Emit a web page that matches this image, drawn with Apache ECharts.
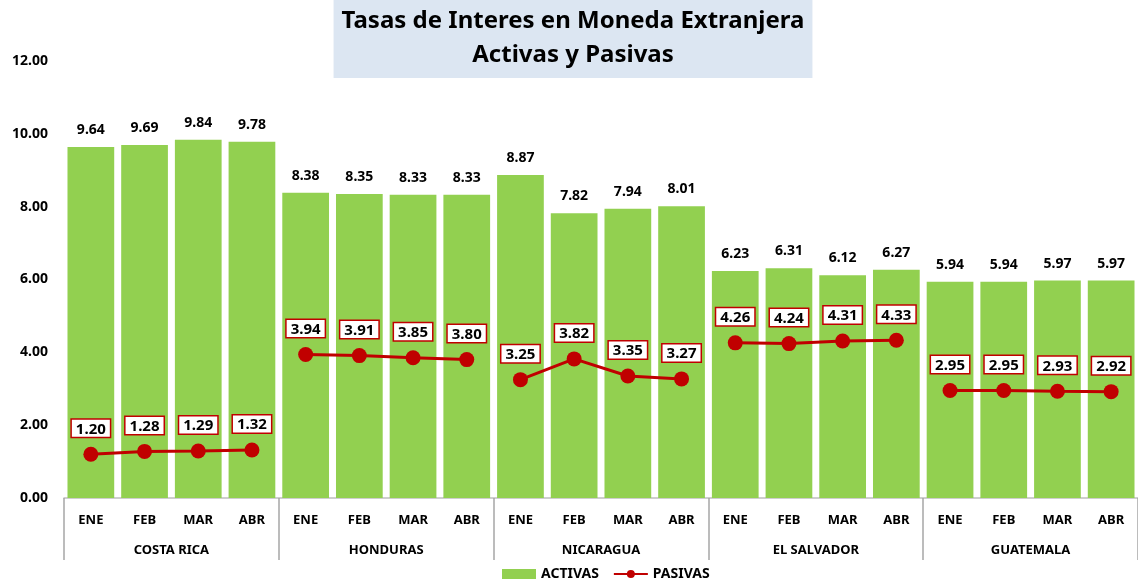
<!DOCTYPE html>
<html>
<head>
<meta charset="utf-8">
<script src="https://cdn.jsdelivr.net/npm/echarts@6/dist/echarts.min.js"></script>
<style>
  html, body { margin: 0; padding: 0; background: #fff; }
  #chart { width: 1138px; height: 585px; }
</style>
</head>
<body>
<div id="chart"></div>
<script>
// datos
var meses = ['ENE', 'FEB', 'MAR', 'ABR']
var paises = ['COSTA RICA', 'HONDURAS', 'NICARAGUA', 'EL SALVADOR', 'GUATEMALA']
var activas = [9.64, 9.69, 9.84, 9.78, 8.38, 8.35, 8.33, 8.33, 8.87, 7.82, 7.94, 8.01, 6.23, 6.31, 6.12, 6.27, 5.94, 5.94, 5.97, 5.97]
var pasivas = [1.20, 1.28, 1.29, 1.32, 3.94, 3.91, 3.85, 3.80, 3.25, 3.82, 3.35, 3.27, 4.26, 4.24, 4.31, 4.33, 2.95, 2.95, 2.93, 2.92]

var FONT = 'Noto Sans'
var categorias = []
paises.forEach(function () {
  meses.forEach(function (m) { categorias.push(m) })
})

var chart = echarts.init(document.getElementById('chart'))

// una serie de linea por pais, para que la linea se corte entre grupos
var lineas = paises.map(function (p, k) {
  var d = pasivas.map(function (v, i) {
    return Math.floor(i / meses.length) === k ? v : '-'
  })
  return {
    name: 'PASIVAS',
    type: 'line',
    data: d,
    symbol: 'circle',
    symbolSize: 15,
    lineStyle: { color: '#C00000', width: 3 },
    itemStyle: { color: '#C00000' },
    label: {
      show: true,
      position: 'top',
      distance: 10,
      formatter: function (x) { return x.value.toFixed(2) },
      color: '#000',
      fontFamily: FONT,
      fontWeight: 'bold',
      fontSize: 15,
      backgroundColor: '#fff',
      borderColor: '#C00000',
      borderWidth: 1.5,
      padding: [2, 4, 0, 4]
    },
    z: 3
  }
})

var option = {
  title: {
    text: 'Tasas de Interes en Moneda Extranjera\nActivas y Pasivas',
    left: 565,
    top: 0,
    textAlign: 'center',
    backgroundColor: '#DCE6F2',
    padding: [4, 8, 6, 8],
    textStyle: {
      fontFamily: FONT,
      fontWeight: 'bold',
      fontSize: 24,
      lineHeight: 34,
      color: '#000'
    }
  },
  legend: {
    bottom: -1,
    left: 497,
    itemGap: 14,
    itemWidth: 34,
    itemHeight: 10,
    data: [
      { name: 'ACTIVAS', icon: 'rect' },
      { name: 'PASIVAS' }
    ],
    textStyle: { fontFamily: FONT, fontWeight: 'bold', fontSize: 14, color: '#000' }
  },
  grid: { left: 64, right: 0, top: 61, bottom: 87 },
  xAxis: [
    {
      type: 'category',
      data: categorias,
      axisLine: { lineStyle: { color: '#BFBFBF', width: 1.5 } },
      axisTick: { show: false },
      axisLabel: {
        interval: 0,
        margin: 16,
        color: '#000',
        fontFamily: FONT,
        fontWeight: 'bold',
        fontSize: 13
      }
    },
    {
      type: 'category',
      data: paises,
      position: 'bottom',
      axisLine: { show: false },
      axisTick: { show: true, length: 62, lineStyle: { color: '#A6A6A6', width: 1.5 } },
      axisLabel: {
        interval: 0,
        margin: 46,
        color: '#000',
        fontFamily: FONT,
        fontWeight: 'bold',
        fontSize: 13
      }
    }
  ],
  yAxis: {
    type: 'value',
    min: 0,
    max: 12,
    interval: 2,
    axisLine: { show: false },
    axisTick: { show: false },
    splitLine: { show: false },
    axisLabel: {
      margin: 16,
      align: 'right',
      formatter: function (v) { return v.toFixed(2) },
      color: '#000',
      fontFamily: FONT,
      fontWeight: 'bold',
      fontSize: 14
    }
  },
  series: [
    {
      name: 'ACTIVAS',
      type: 'bar',
      data: activas,
      barCategoryGap: '13%',
      itemStyle: { color: '#92D050' },
      label: {
        show: true,
        position: 'top',
        distance: 10,
        formatter: function (x) { return x.value.toFixed(2) },
        color: '#000',
        fontFamily: FONT,
        fontWeight: 'bold',
        fontSize: 14
      }
    }
  ].concat(lineas),
  color: ['#92D050', '#C00000']
}
chart.setOption(option)
</script>
</body>
</html>
